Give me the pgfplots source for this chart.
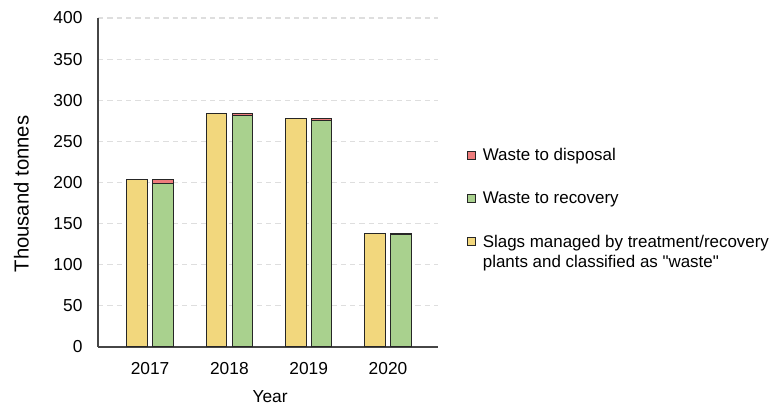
\documentclass[border=0pt]{standalone}
\usepackage{fontspec}
\newfontfamily\lsans{Liberation Sans}
\usepackage{pgfplots}
\pgfplotsset{compat=1.18}

\definecolor{slag}{RGB}{242,215,125}
\definecolor{recov}{RGB}{169,209,142}
\definecolor{disp}{RGB}{238,124,124}
\definecolor{gridgray}{RGB}{222,222,222}
\definecolor{axisgray}{RGB}{70,70,70}
\definecolor{edge}{RGB}{38,38,38}

% slags managed as waste
\pgfplotstableread{
x y
0 204
1 284
2 278
3 138
}\slags
% waste to recovery
\pgfplotstableread{
x y
0 199
1 281
2 275
3 137
}\recovery
% waste to disposal
\pgfplotstableread{
x y
0 5
1 3
2 3
3 1.5
}\disposal

\pgfplotsset{
  common/.style={
    at={(73.5pt,46.5pt)}, anchor=south west, scale only axis,
    width=255pt, height=246.75pt,
    xmin=-0.656, xmax=3.63, ymin=0, ymax=400,
    bar width=15.4pt,
  },
  % legend square lifted to the first line of a two-line entry
  upimg/.style={legend image code/.code={\draw[##1] (0pt,4.5pt) rectangle (6pt,10.5pt);}},
}

\begin{document}
\begin{tikzpicture}[font=\lsans\fontsize{13}{15.5}\selectfont]
\useasboundingbox (0,0) rectangle (579.75pt,306.75pt);

\begin{axis}[common, ybar,
  axis x line*=bottom, axis y line*=left,
  axis line style={axisgray, line width=1.1pt},
  major tick length=0pt,
  ymajorgrids, grid style={gridgray, line width=0.8pt, dash pattern=on 4pt off 3pt},
  ytick distance=50,
  xtick={0,1,2,3}, xticklabels={2017,2018,2019,2020},
  /pgf/number format/assume math mode=true,
  yticklabel style={anchor=east, inner xsep=0pt, xshift=-11.5pt},
  xticklabel style={anchor=north, inner ysep=0pt, yshift=-11.25pt},
  xlabel={Year}, ylabel={Thousand tonnes},
  xlabel style={at={(axis description cs:0.506,-0.1307)}, anchor=north, inner sep=0pt},
  ylabel style={at={(axis description cs:-0.225,0.465)}, anchor=center, rotate=0,
    font=\lsans\fontsize{15.2}{17}\selectfont},
]
\addplot[fill=slag, draw=edge, line width=0.75pt, bar shift=-9.7pt] table {\slags};
\end{axis}

\begin{axis}[common, ybar stacked, hide axis,
  reverse legend,
  legend cell align=left,
  legend image code/.code={\draw[#1] (0pt,-3pt) rectangle (6pt,3pt);},
  legend style={draw=none, fill=none, at={(axis description cs:1.085,0.605)},
    anchor=north west, inner sep=0pt, row sep=22pt, column sep=5pt,
    font=\lsans\fontsize{12.7}{15}\selectfont,
    cells={align=left}, nodes={inner sep=0pt}},
]
\addlegendimage{fill=slag, draw=edge, line width=0.75pt, upimg}
\addplot[fill=recov, draw=edge, line width=0.75pt, bar shift=9.7pt] table {\recovery};
\addplot[fill=disp, draw=edge, line width=0.75pt, bar shift=9.7pt] table {\disposal};
\legend{{Slags managed by treatment/recovery\\plants and classified as "waste"},
  {Waste to recovery}, {Waste to disposal}}
\end{axis}
\end{tikzpicture}
\end{document}
